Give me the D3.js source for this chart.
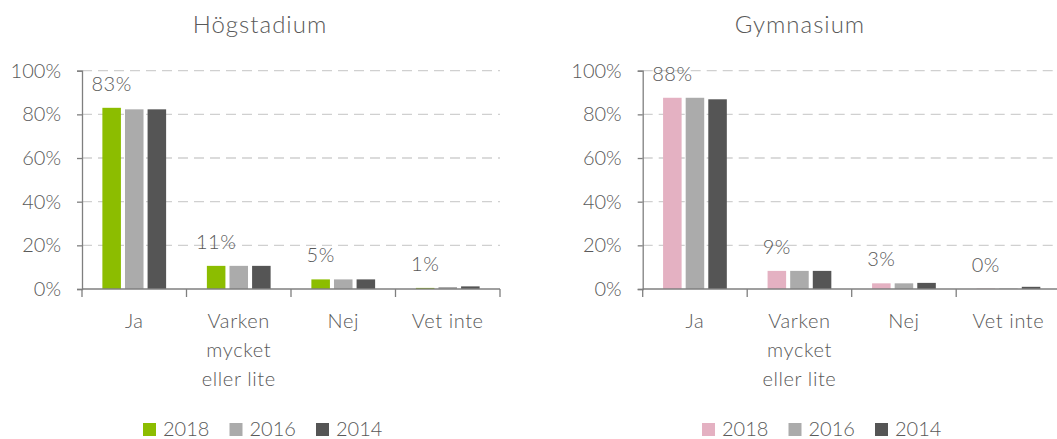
<!DOCTYPE html>
<html>
<head>
<meta charset="utf-8">
<script src="https://cdn.jsdelivr.net/npm/d3@7"></script>
<style>
  body { margin: 0; background: #fff; }
  text { font-family: Lato, "Open Sans", sans-serif; fill: #595959; font-weight: 300; }
</style>
</head>
<body>
<svg id="chart"></svg>
<script>
// categories and series
var categories = ["Ja", "Varken mycket eller lite", "Nej", "Vet inte"]
var categoryLines = [["Ja"], ["Varken", "mycket", "eller lite"], ["Nej"], ["Vet inte"]]
var years = ["2018", "2016", "2014"]
var yTicks = [0, 20, 40, 60, 80, 100]

var hogTitle = "Högstadium"
var hog2018 = [83, 10.6, 4.4, 0.5]
var hog2016 = [82.3, 10.6, 4.4, 0.9]
var hog2014 = [82.3, 10.6, 4.4, 1.2]
var hogLabels = ["83%", "11%", "5%", "1%"]

var gymTitle = "Gymnasium"
var gym2018 = [87.6, 8.3, 2.6, 0.2]
var gym2016 = [87.6, 8.3, 2.6, 0.2]
var gym2014 = [86.9, 8.3, 2.8, 1.0]
var gymLabels = ["88%", "9%", "3%", "0%"]

var width = 1057, height = 439

var svg = d3.select("#chart")
  .attr("width", width)
  .attr("height", height)

function drawPanel(opts) {
  var g = svg.append("g")

  var xScale = d3.scaleBand()
    .domain(categories)
    .range([opts.left, opts.right])
    .paddingInner(0.39)
    .paddingOuter(0.195)

  var inner = d3.scaleBand()
    .domain(years)
    .range([0, xScale.bandwidth()])
    .paddingInner(0.18)

  var yScale = d3.scaleLinear()
    .domain([0, 100])
    .range([289, 70.7])

  // title
  g.append("text")
    .attr("x", opts.titleX)
    .attr("y", 33)
    .attr("text-anchor", "middle")
    .style("font-size", "24px")
    .style("letter-spacing", "1px")
    .text(opts.title)

  // gridlines
  g.selectAll(".grid")
    .data(yTicks.filter(d => d > 0))
    .enter()
    .append("line")
    .attr("x1", opts.left)
    .attr("x2", opts.right)
    .attr("y1", d => yScale(d))
    .attr("y2", d => yScale(d))
    .attr("stroke", "#d0d0d0")
    .attr("stroke-width", 1.3)
    .attr("stroke-dasharray", "10,6")

  // bars
  var series = [opts.s2018, opts.s2016, opts.s2014]
  years.forEach(function(yr, k) {
    g.selectAll(".bar" + yr)
      .data(series[k])
      .enter()
      .append("rect")
      .attr("x", (d, i) => xScale(categories[i]) + inner(yr))
      .attr("y", d => yScale(d))
      .attr("width", inner.bandwidth())
      .attr("height", d => yScale(0) - yScale(d))
      .attr("fill", opts.colors[k])
  })

  // data labels over 2018 bars
  g.selectAll(".lbl")
    .data(opts.labels)
    .enter()
    .append("text")
    .attr("x", (d, i) => xScale(categories[i]) + inner("2018") + inner.bandwidth() / 2)
    .attr("y", (d, i) => yScale(opts.s2018[i]) - 17)
    .attr("text-anchor", "middle")
    .style("font-size", "20px")
    .style("letter-spacing", "0.5px")
    .text(d => d)

  // y axis
  var yAxis = d3.axisLeft(yScale)
    .tickValues(yTicks)
    .tickSize(5)
    .tickPadding(16)
    .tickFormat(d => d + "%")
  var ya = g.append("g")
    .attr("transform", "translate(" + opts.left + ",0)")
    .call(yAxis)
  ya.select(".domain").attr("stroke", "#7f7f7f").attr("stroke-width", 1.3)
  ya.selectAll(".tick line").attr("stroke", "#7f7f7f").attr("stroke-width", 1.3)
  ya.selectAll("text").style("font-size", "20px").attr("fill", "#595959")
    .style("font-family", "Lato, 'Open Sans', sans-serif")

  // x axis line and ticks between categories
  var xa = g.append("g")
  xa.append("line")
    .attr("x1", opts.left)
    .attr("x2", opts.right)
    .attr("y1", yScale(0))
    .attr("y2", yScale(0))
    .attr("stroke", "#7f7f7f")
    .attr("stroke-width", 1.3)
  var step = xScale.step()
  xa.selectAll(".xt")
    .data(d3.range(categories.length + 1))
    .enter()
    .append("line")
    .attr("x1", i => opts.left + i * step)
    .attr("x2", i => opts.left + i * step)
    .attr("y1", yScale(0))
    .attr("y2", yScale(0) + 8)
    .attr("stroke", "#7f7f7f")
    .attr("stroke-width", 1.3)

  // category labels
  categoryLines.forEach(function(lines, i) {
    var t = g.append("text")
      .attr("text-anchor", "middle")
      .style("font-size", "20px")
      .style("letter-spacing", "0.6px")
    lines.forEach(function(l, j) {
      t.append("tspan")
        .attr("x", xScale(categories[i]) + xScale.bandwidth() / 2)
        .attr("y", 328 + j * 29)
        .text(l)
    })
  })

  // legend
  var lg = g.append("g")
  years.forEach(function(yr, k) {
    var lx = opts.legendX + k * 86.5
    lg.append("rect")
      .attr("x", lx)
      .attr("y", 423)
      .attr("width", 13)
      .attr("height", 13)
      .attr("fill", opts.colors[k])
    lg.append("text")
      .attr("x", lx + 20)
      .attr("y", 436)
      .style("font-size", "20px")
      .text(yr)
  })
}

drawPanel({
  title: hogTitle, titleX: 260,
  left: 82, right: 500,
  s2018: hog2018, s2016: hog2016, s2014: hog2014,
  labels: hogLabels,
  colors: ["#8cbd00", "#ababab", "#555555"],
  legendX: 143
})

drawPanel({
  title: gymTitle, titleX: 800,
  left: 642.7, right: 1060.7,
  s2018: gym2018, s2016: gym2016, s2014: gym2014,
  labels: gymLabels,
  colors: ["#e4b1c2", "#ababab", "#555555"],
  legendX: 702
})
</script>
</body>
</html>
